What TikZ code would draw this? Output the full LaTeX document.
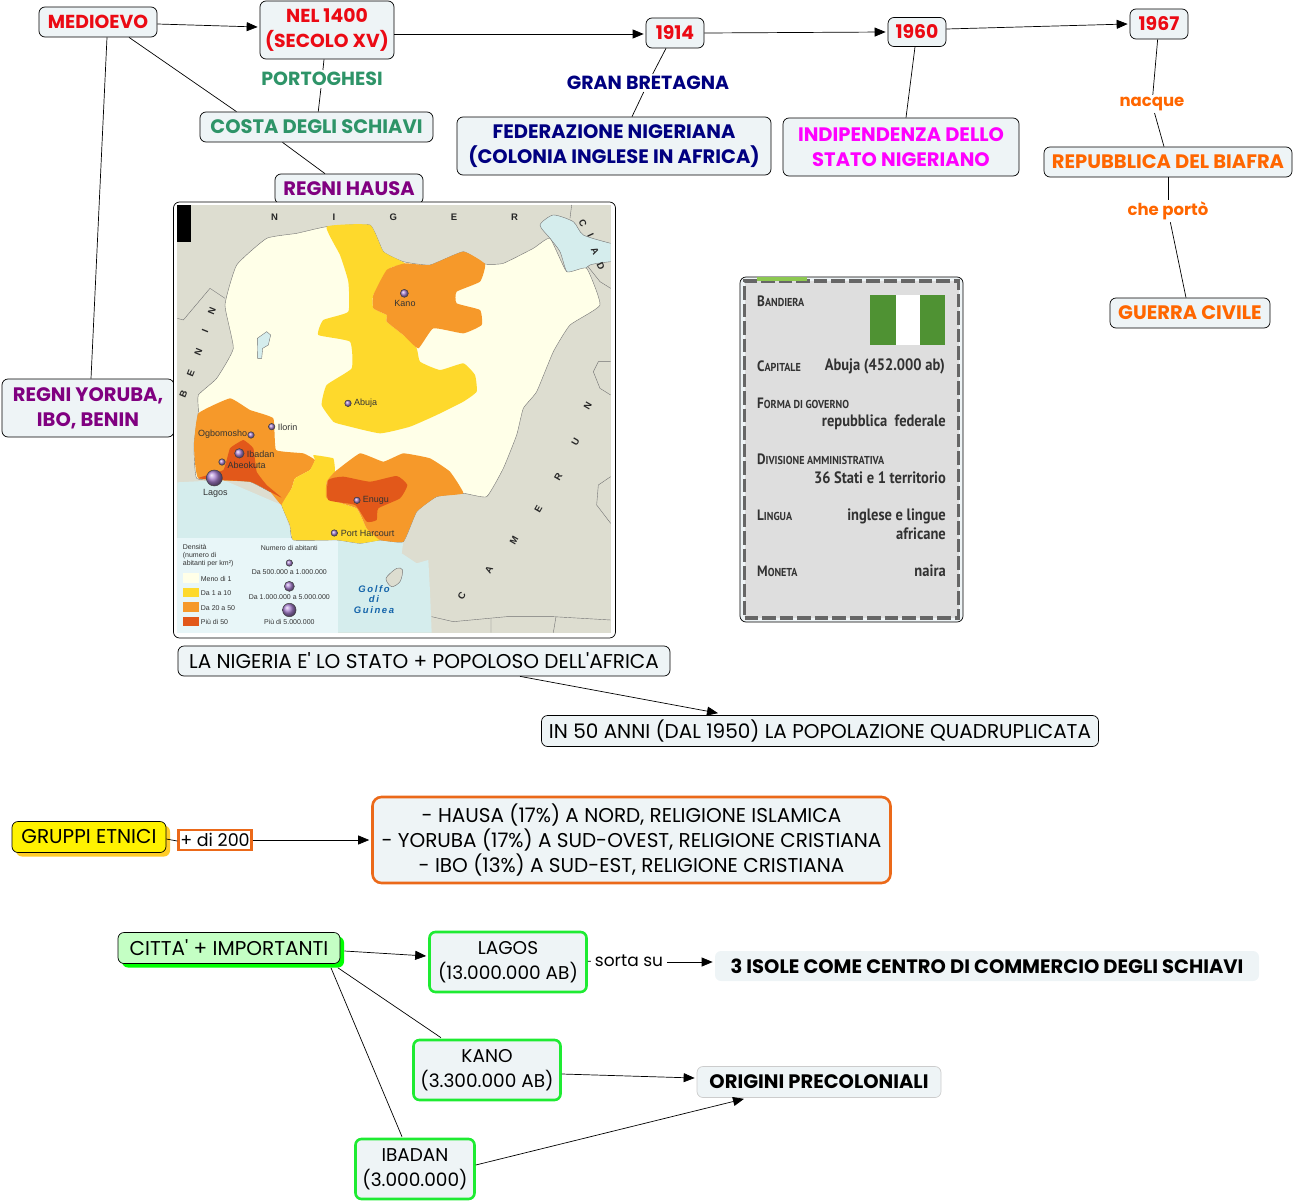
\documentclass[tikz,border=0pt]{standalone}
\usepackage{fontspec}
\usepackage{tikz}
\usetikzlibrary{arrows.meta,shadows}
\setmainfont{Open Sans}
\newfontfamily\cmapfont{Poppins}
\newfontfamily\mapfont{Liberation Sans}
\newfontfamily\cardfont[FakeStretch=0.88]{PT Sans}
\definecolor{boxfill}{RGB}{238,244,246}
\definecolor{redtxt}{RGB}{235,10,20}
\definecolor{greentxt}{RGB}{46,148,104}
\definecolor{purpletxt}{RGB}{128,0,128}
\definecolor{navytxt}{RGB}{0,0,128}
\definecolor{orangetxt}{RGB}{255,102,0}
\definecolor{magentatxt}{RGB}{255,0,255}
\definecolor{edgeorange}{RGB}{235,105,25}
\definecolor{edgegreen}{RGB}{30,235,50}
\definecolor{landgray}{RGB}{221,221,208}
\definecolor{seablue}{RGB}{213,237,237}
\definecolor{legendblue}{RGB}{232,246,248}
\definecolor{nigpale}{RGB}{255,255,232}
\definecolor{nigyellow}{RGB}{254,217,44}
\definecolor{nigorange}{RGB}{246,153,42}
\definecolor{nigred}{RGB}{226,88,26}
\definecolor{citydot}{RGB}{170,130,210}
\definecolor{gulfblue}{RGB}{20,100,170}
\definecolor{cardgray}{RGB}{222,222,222}
\definecolor{carddash}{RGB}{102,102,102}
\definecolor{cardbar}{RGB}{140,200,80}
\definecolor{cardtxt}{RGB}{50,50,50}
\definecolor{flaggreen}{RGB}{79,146,51}
\definecolor{shadowyellow}{RGB}{255,204,40}
\definecolor{mintfill}{RGB}{196,255,196}
\tikzset{
  concept/.style={rectangle,rounded corners=6pt,draw=black,fill=boxfill,line width=0.7pt,align=center,
    font=\cmapfont\fontsize{20}{25}\selectfont,inner sep=0pt},
  boldbox/.style={concept,font=\cmapfont\bfseries\fontsize{19.5}{25}\selectfont},
  redbox/.style={concept,text=redtxt,font=\cmapfont\bfseries\fontsize{18.8}{25}\selectfont},
  greenbox/.style={boldbox,text=greentxt},
  purplebox/.style={boldbox,text=purpletxt},
  navybox/.style={boldbox,text=navytxt},
  orangebox/.style={boldbox,text=orangetxt},
  citybox/.style={concept,draw=edgegreen,line width=2.6pt,font=\cmapfont\fontsize{18.5}{25}\selectfont},
  linklabel/.style={inner sep=2pt,font=\cmapfont\bfseries\fontsize{19}{22}\selectfont},
  smalllabel/.style={inner sep=2pt,text=orangetxt,font=\cmapfont\bfseries\fontsize{16.5}{20}\selectfont},
  arr/.style={-{Triangle[length=11pt,width=9pt]},black,line width=0.7pt},
  plainline/.style={black,line width=0.7pt},
  mapletter/.style={font=\mapfont\bfseries\fontsize{9.5}{10}\selectfont,text=black!85},
  maptxt/.style={font=\mapfont\fontsize{9}{10}\selectfont,text=black!80,inner sep=0pt},
  legendtxt/.style={font=\mapfont\fontsize{7}{8}\selectfont,text=black!80,inner sep=0pt,align=left},
  city/.style={circle,draw=black!75,ball color=citydot,line width=0.5pt,inner sep=0pt,minimum size=#1},
  cardhead/.style={anchor=west,inner sep=0pt,text=cardtxt,font=\cardfont\bfseries\fontsize{15}{17}\selectfont},
  cardval/.style={anchor=east,inner sep=0pt,align=right,text=cardtxt,font=\cardfont\bfseries\fontsize{16.5}{18.5}\selectfont}
}
\newcommand{\smc}[2]{#1{\fontsize{11.5}{17}\selectfont #2}}
\begin{document}
\begin{tikzpicture}[x=1pt,y=-1pt]
  \useasboundingbox (0,0) rectangle (1294,1202);

  %% Top row
  \node[redbox,minimum width=118pt,minimum height=30pt] (medioevo) at (98,22) {MEDIOEVO};
  \node[redbox,minimum width=134pt,minimum height=58pt] (nel) at (327,30) {NEL 1400\\(SECOLO XV)};
  \node[redbox,minimum width=58pt,minimum height=30pt] (y1914) at (675,33) {1914};
  \node[redbox,minimum width=58pt,minimum height=29pt] (y1960) at (917,32) {1960};
  \node[redbox,minimum width=58pt,minimum height=30pt] (y1967) at (1159,24) {1967};

  %% Second row
  \node[linklabel,text=greentxt] (portoghesi) at (322,79) {PORTOGHESI};
  \node[greenbox,minimum width=233pt,minimum height=30pt] (costa) at (316.5,127) {COSTA DEGLI SCHIAVI};
  \node[purplebox,minimum width=148pt,minimum height=30pt] (hausa) at (349,189) {REGNI HAUSA};
  \node[linklabel,text=navytxt] (gran) at (648,83) {GRAN BRETAGNA};
  \node[navybox,minimum width=314pt,minimum height=58pt] (federazione) at (614,146) {FEDERAZIONE NIGERIANA\\(COLONIA INGLESE IN AFRICA)};
  \node[boldbox,text=magentatxt,minimum width=236pt,minimum height=58pt] (indip) at (901,147) {INDIPENDENZA DELLO\\STATO NIGERIANO};
  \node[smalllabel] (nacque) at (1152,104) {nacque};
  \node[orangebox,minimum width=248pt,minimum height=30pt] (biafra) at (1168,162) {REPUBBLICA DEL BIAFRA};
  \node[smalllabel] (porto) at (1168,211) {che portò};
  \node[orangebox,minimum width=160pt,minimum height=30pt] (guerra) at (1190,313) {GUERRA CIVILE};
  \node[purplebox,minimum width=172pt,minimum height=58pt] (yoruba) at (88,408) {REGNI YORUBA,\\IBO, BENIN};

  %% Top connectors
  \draw[arr] ([yshift=-2pt]medioevo.east) -- ([yshift=3pt,xshift=-2pt]nel.west);
  \draw[plainline] ([xshift=9pt]medioevo.south) -- ([xshift=3pt]yoruba.north);
  \draw[plainline] ([xshift=31pt]medioevo.south) -- ([xshift=-80pt]costa.north);
  \draw[plainline] (nel) -- (portoghesi);
  \draw[plainline] (portoghesi) -- (costa);
  \draw[plainline] ([xshift=-34pt]costa.south) -- ([xshift=-24pt]hausa.north);
  \draw[arr] ([yshift=-4pt]nel.east) -- ([xshift=-2pt,yshift=-1pt]y1914.west);
  \draw[plainline] ([xshift=-9pt]y1914.south) -- (gran);
  \draw[plainline] (gran) -- ([xshift=18pt]federazione.north);
  \draw[arr] (y1914.east) -- ([xshift=-2pt]y1960.west);
  \draw[arr] ([yshift=3pt]y1960.east) -- ([xshift=-2pt]y1967.west);
  \draw[plainline] ([xshift=-2pt]y1960.south) -- ([xshift=5pt]indip.north);
  \draw[plainline] (y1967) -- (nacque);
  \draw[plainline] (nacque) -- ([xshift=-4pt]biafra.north);
  \draw[plainline] (biafra) -- (porto);
  \draw[plainline] (porto) -- ([xshift=-4pt]guerra.north);

  %% Map
  \node[rectangle,rounded corners=6pt,draw=black,fill=white,line width=0.7pt,minimum width=442pt,minimum height=436pt,inner sep=0pt] (mapbox) at (394.5,420) {};
  \begin{scope}[shift={(170,195)},x=0.33333pt,y=-0.33333pt]
    \fill[landgray] (22,30) rectangle (1322,1313);
    \fill[seablue] (22,862) -- (160,855) -- (335,930) -- (370,1030) -- (700,1040) -- (695,1075) -- (740,1105) -- (775,1095) -- (780,1190) -- (785,1313) -- (22,1313) -- cycle;
    \fill[legendblue] (22,1030) rectangle (505,1313);
    \fill[black] (22,30) rectangle (62,140);
    %% borders and lakes
    \draw[black!55,line width=0.4pt] (22,370) -- (40,375) -- (120,280) -- (165,310);
    \draw[black!55,line width=0.4pt] (785,1265) -- (850,1280) -- (1010,1265) -- (1150,1265) -- (1322,1275);
    \draw[black!55,line width=0.4pt] (963,1272) -- (963,1313) (1158,1265) -- (1150,1313);
    \draw[black!55,line width=0.4pt] (1322,500) -- (1285,500) -- (1270,530) -- (1290,580) -- (1322,600);
    \draw[black!55,line width=0.4pt] (1322,845) -- (1285,870) -- (1280,930) -- (1322,985);
    \draw[black!55,line width=0.4pt] (1205,30) -- (1200,70) (1250,210) -- (1290,260) -- (1322,280);
    \draw[black!55,fill=seablue,line width=0.4pt] plot[smooth,tension=0.4] coordinates {(1322,145) (1240,120) (1210,80) (1150,60) (1110,90) (1140,130) (1170,170) (1190,230) (1220,245) (1260,210) (1322,200)};
    \draw[black!55,fill=landgray,line width=0.4pt] plot[smooth cycle,tension=0.5] coordinates {(648,1150) (680,1120) (698,1125) (690,1160) (665,1175)};
    %% Nigeria and density areas
    \draw[black!55,fill=nigpale,line width=0.4pt] plot[smooth cycle,tension=0.25] coordinates {(470,95) (600,90) (640,170) (700,200) (780,210) (880,170) (945,207) (1000,205) (1090,160) (1140,130) (1190,230) (1250,220) (1290,330) (1200,390) (1150,470) (1100,590) (1060,640) (1040,720) (1000,820) (950,905) (880,895) (800,905) (740,950) (700,1040) (630,1035) (570,1045) (500,1035) (370,1035) (360,990) (335,930) (345,905) (300,890) (240,860) (160,855) (80,850) (72,750) (85,650) (85,600) (140,550) (190,460) (165,330) (200,210) (290,130) (380,115)};
    \fill[nigyellow] plot[smooth cycle,tension=0.25] coordinates {(470,95) (600,90) (640,170) (705,205) (660,220) (610,300) (610,340) (650,360) (650,380) (700,420) (740,460) (750,500) (810,525) (880,505) (915,540) (920,590) (880,620) (800,660) (720,695) (630,715) (520,690) (490,680) (455,630) (470,570) (545,520) (540,440) (445,420) (460,375) (535,350) (535,260) (510,180)};
    \fill[nigorange] plot[smooth cycle,tension=0.25] coordinates {(705,205) (780,210) (880,170) (945,207) (930,260) (860,290) (860,325) (930,345) (935,390) (880,415) (790,400) (745,460) (700,420) (650,380) (650,360) (610,340) (610,300) (650,225)};
    \fill[nigorange] plot[smooth cycle,tension=0.2] coordinates {(85,655) (180,610) (240,645) (310,670) (318,765) (400,775) (435,795) (420,825) (375,850) (365,880) (335,930) (300,890) (240,860) (85,850) (72,750)};
    \fill[nigred] plot[smooth cycle,tension=0.2] coordinates {(85,850) (160,825) (180,760) (220,735) (250,760) (260,830) (290,870) (335,908) (300,890) (240,860)};
    \fill[nigyellow] plot[smooth cycle,tension=0.15] coordinates {(430,780) (490,790) (495,830) (470,860) (470,910) (560,940) (590,1000) (630,1035) (570,1045) (500,1035) (370,1035) (360,990) (335,930) (365,880) (375,850) (420,825) (435,795)};
    \fill[nigorange] plot[smooth cycle,tension=0.2] coordinates {(495,830) (570,775) (640,800) (700,775) (780,790) (840,830) (880,895) (800,905) (740,950) (700,1040) (630,1035) (590,1000) (560,940) (470,910) (470,860)};
    \fill[nigred] plot[smooth cycle,tension=0.3] coordinates {(475,855) (520,845) (600,860) (680,843) (712,870) (690,910) (625,940) (620,975) (590,980) (555,930) (475,915)};
    \draw[black!55,fill=seablue,line width=0.4pt] (262,430) -- (290,410) -- (302,420) -- (295,450) -- (278,460) -- (275,490) -- (263,490) -- cycle;
    %% cities
    \node[city=8pt] (kano) at (703,295) {};
    \node[maptxt] at (705,324) {Kano};
    \node[city=6.5pt] (abuja) at (534,625) {};
    \node[maptxt,anchor=west] at (552,626) {Abuja};
    \node[city=6.5pt] (ilorin) at (305,695) {};
    \node[maptxt,anchor=west] at (323,698) {Ilorin};
    \node[city=6.5pt] (ogbomosho) at (243,720) {};
    \node[maptxt,anchor=east] at (232,717) {Ogbomosho};
    \node[city=9.5pt] (ibadan) at (208,775) {};
    \node[maptxt,anchor=west] at (230,777) {Ibadan};
    \node[city=6.5pt] (abeokuta) at (156,801) {};
    \node[maptxt,anchor=west] at (172,812) {Abeokuta};
    \node[city=16pt] (lagos) at (133,849) {};
    \node[maptxt] at (136,895) {Lagos};
    \node[city=6.5pt] (enugu) at (561,916) {};
    \node[maptxt,anchor=west] at (578,916) {Enugu};
    \node[city=6.5pt] (harcourt) at (493,1014) {};
    \node[maptxt,anchor=west] at (512,1016) {Port Harcourt};
    %% country names
    \foreach \ltr/\px in {N/314,I/492,G/670,E/852,R/1034} \node[mapletter] at (\px,67) {\ltr};
    \foreach \ltr/\px/\py in {B/40/598,E/62/535,N/85/470,I/105/408,N/126/347} \node[mapletter,rotate=68] at (\px,\py) {\ltr};
    \foreach \ltr/\px/\py in {C/1238/85,I/1262/120,A/1275/168,D/1292/214} \node[mapletter,rotate=-65] at (\px,\py) {\ltr};
    \foreach \ltr/\px/\py in {C/875/1203,A/957/1125,M/1032/1036,E/1105/943,R/1165/847,U/1217/742,N/1253/634} \node[mapletter,rotate=60] at (\px,\py) {\ltr};
    %% legend
    \node[legendtxt,anchor=north west] at (38,1047) {Densità\\(numero di\\abitanti per km²)};
    \fill[nigpale] (38,1135) rectangle (86,1163);
    \fill[nigyellow] (38,1178) rectangle (86,1206);
    \fill[nigorange] (38,1222) rectangle (86,1250);
    \fill[nigred] (38,1266) rectangle (86,1294);
    \node[legendtxt,anchor=west] at (92,1152) {Meno di 1};
    \node[legendtxt,anchor=west] at (92,1195) {Da 1 a 10};
    \node[legendtxt,anchor=west] at (92,1238) {Da 20 a 50};
    \node[legendtxt,anchor=west] at (92,1281) {Più di 50};
    \node[legendtxt] at (358,1059) {Numero di abitanti};
    \node[city=6.5pt] (dotsmall) at (358,1104) {};
    \node[legendtxt] at (358,1130) {Da 500.000 a 1.000.000};
    \node[city=10pt] (dotmid) at (358,1174) {};
    \node[legendtxt] at (358,1207) {Da 1.000.000 a 5.000.000};
    \node[city=13.5pt] (dotbig) at (358,1245) {};
    \node[legendtxt] at (358,1281) {Più di 5.000.000};
    \node[font=\mapfont\bfseries\itshape\fontsize{9.5}{10.5}\selectfont,text=gulfblue,align=center,inner sep=0pt] (golfo) at (612,1213) {G\,o\,l\,f\,o\\d\,i\\G\,u\,i\,n\,e\,a};
  \end{scope}

  %% Info card
  \node[rectangle,rounded corners=6pt,draw=black,fill=boxfill,line width=0.7pt,minimum width=223pt,minimum height=345pt,inner sep=0pt] (card) at (851.5,449.5) {};
  \node[rectangle,draw=carddash,fill=cardgray,line width=3.6pt,dash pattern=on 13.5pt off 4pt,minimum width=214pt,minimum height=337pt,inner sep=0pt] (cardinner) at (851.5,449.5) {};
  \draw[cardbar,line width=4pt] ([xshift=14pt]cardinner.north west) -- ([xshift=64pt]cardinner.north west);
  \fill[flaggreen] (870,295) rectangle (896,345);
  \fill[white] (896,295) rectangle (920,345);
  \fill[flaggreen] (920,295) rectangle (945,345);
  \node[cardhead] (bandiera) at (757,301) {\smc{B}{ANDIERA}};
  \node[cardhead] (capitale) at (757,366) {\smc{C}{APITALE}};
  \node[cardval] (abujaval) at (945,366) {Abuja (452.000 ab)};
  \node[cardhead] (forma) at (757,403) {\smc{F}{ORMA DI GOVERNO}};
  \node[cardval] (formaval) at (946,422) {repubblica\ \ federale};
  \node[cardhead] (divisione) at (757,459) {\smc{D}{IVISIONE AMMINISTRATIVA}};
  \node[cardval] (divval) at (946,478) {36 Stati e 1 territorio};
  \node[cardhead] (lingua) at (757,515) {\smc{L}{INGUA}};
  \node[cardval] (linguaval) at (946,524) {inglese e lingue\\africane};
  \node[cardhead] (moneta) at (757,571) {\smc{M}{ONETA}};
  \node[cardval] (monetaval) at (946,571) {naira};

  %% Population
  \node[concept,minimum width=492pt,minimum height=30pt] (stato) at (424,661) {LA NIGERIA E' LO STATO + POPOLOSO DELL'AFRICA};
  \node[concept,minimum width=557pt,minimum height=31pt] (anni) at (820,731) {IN 50 ANNI (DAL 1950) LA POPOLAZIONE QUADRUPLICATA};
  \draw[arr] ([xshift=96pt]stato.south) -- ([xshift=-102pt,yshift=2pt]anni.north);

  %% Ethnic groups
  \node[concept,fill=yellow,minimum width=154pt,minimum height=31pt,drop shadow={shadow xshift=4pt,shadow yshift=-4pt,fill=shadowyellow,opacity=1}] (gruppi) at (89,837) {GRUPPI ETNICI};
  \node[rectangle,draw=edgeorange,fill=white,line width=2.4pt,minimum width=73pt,minimum height=20pt,inner sep=0pt,font=\cmapfont\fontsize{17.5}{20}\selectfont] (duecento) at (215,840) {+ di 200};
  \node[concept,draw=edgeorange,line width=2.6pt,rounded corners=9pt,minimum width=518pt,minimum height=86pt] (etnie) at (631.5,840) {- HAUSA (17\%) A NORD, RELIGIONE ISLAMICA\\- YORUBA (17\%) A SUD-OVEST, RELIGIONE CRISTIANA\\- IBO (13\%) A SUD-EST, RELIGIONE CRISTIANA};
  \draw[plainline] ([yshift=-2pt]gruppi.east) -- ([yshift=-1pt]duecento.west);
  \draw[arr] (duecento.east) -- ([xshift=-2pt]etnie.west);

  %% Cities
  \node[concept,fill=mintfill,minimum width=222pt,minimum height=31pt,drop shadow={shadow xshift=4pt,shadow yshift=-4pt,fill=green,opacity=1}] (citta) at (229,948) {CITTA' + IMPORTANTI};
  \node[citybox,minimum width=157pt,minimum height=60pt] (lagosbox) at (508,962) {LAGOS\\(13.000.000 AB)};
  \node[citybox,minimum width=147pt,minimum height=60pt] (kanobox) at (487,1070) {KANO\\(3.300.000 AB)};
  \node[citybox,minimum width=119pt,minimum height=60pt] (ibadanbox) at (415,1169) {IBADAN\\(3.000.000)};
  \node[inner sep=4pt,font=\cmapfont\fontsize{17}{20}\selectfont] (sorta) at (629,961) {sorta su};
  \node[boldbox,draw=none,minimum width=544pt,minimum height=30pt] (isole) at (987,966) {3 ISOLE COME CENTRO DI COMMERCIO DEGLI SCHIAVI};
  \node[boldbox,draw=black!20,minimum width=244pt,minimum height=31pt] (origini) at (819,1082) {ORIGINI PRECOLONIALI};
  \draw[arr] ([xshift=4pt,yshift=-3pt]citta.east) -- ([xshift=-2pt,yshift=6pt]lagosbox.west);
  \draw[plainline] ([xshift=109pt,yshift=-4pt]citta.south) -- ([xshift=-46pt,yshift=1pt]kanobox.north);
  \draw[plainline] ([xshift=102pt,yshift=-4pt]citta.south) -- ([xshift=-13pt,yshift=1pt]ibadanbox.north);
  \draw[plainline] (lagosbox) -- (sorta);
  \draw[arr] ([yshift=-1pt]sorta.east) -- ([xshift=-2pt,yshift=4pt]isole.west);
  \draw[arr] ([yshift=-4pt]kanobox.east) -- ([xshift=-2pt,yshift=4pt]origini.west);
  \draw[arr] ([yshift=4pt]ibadanbox.east) -- ([xshift=-75pt,yshift=-1pt]origini.south);
\end{tikzpicture}
\end{document}
